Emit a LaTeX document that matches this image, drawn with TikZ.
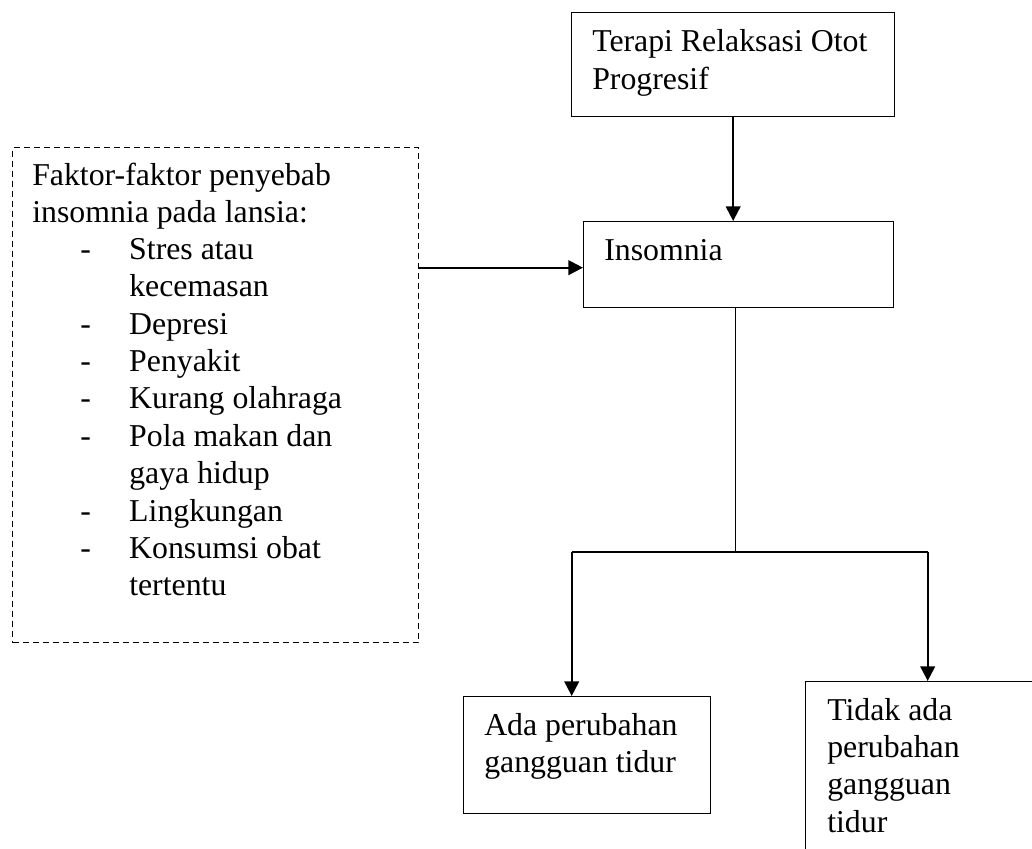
\documentclass[tikz,border=0pt]{standalone}
\usepackage{fontspec}
\setmainfont{Liberation Serif}
\usetikzlibrary{arrows.meta}
\tikzset{
  box/.style={draw, line width=1pt, rectangle, inner sep=0pt, anchor=north west},
  dbox/.style={draw, line width=0.8pt, dash pattern=on 4.5pt off 3pt, rectangle, inner sep=0pt, anchor=north west},
  txt/.style={anchor=base west, inner sep=0pt, font=\fontsize{23.85pt}{28pt}\selectfont},
  arr/.style={line width=1.5pt, -{Triangle[width=11pt,length=11pt]}},
  plain/.style={line width=1pt}
}
\begin{document}
\begin{tikzpicture}[x=0.75pt,y=-0.75pt]
\useasboundingbox (0,0) rectangle (1032,849);
\clip (0,0) rectangle (1032,849);
% boxes
\node[box, minimum width=242.25pt, minimum height=78pt] (top) at (571,12) {};
\node[box, minimum width=232.5pt, minimum height=64.5pt] (ins) at (583,221) {};
\node[dbox, minimum width=304.5pt, minimum height=371.25pt] (fac) at (12,147) {};
\node[box, minimum width=185.25pt, minimum height=87.75pt] (ada) at (463,696) {};
\node[box, minimum width=195pt, minimum height=150pt] (tdk) at (805,681) {};
% texts
\node[txt] (toptxt) at (592,52) {\begin{tabular}[t]{@{}l@{}}Terapi Relaksasi Otot\\Progresif\end{tabular}};
\node[txt] (instxt) at (604,260) {Insomnia};
\node[txt] (factxt) at (32,185) {\begin{tabular}[t]{@{\hspace{36pt}}p{36.75pt}@{}l@{}}
\multicolumn{2}{@{}l@{}}{Faktor-faktor penyebab}\\
\multicolumn{2}{@{}l@{}}{insomnia pada lansia:}\\
- & Stres atau\\
  & kecemasan\\
- & Depresi\\
- & Penyakit\\
- & Kurang olahraga\\
- & Pola makan dan\\
  & gaya hidup\\
- & Lingkungan\\
- & Konsumsi obat\\
  & tertentu
\end{tabular}};
\node[txt] (adatxt) at (484,735) {\begin{tabular}[t]{@{}l@{}}Ada perubahan\\gangguan tidur\end{tabular}};
\node[txt] (tdktxt) at (827,720) {\begin{tabular}[t]{@{}l@{}}Tidak ada\\perubahan\\gangguan\\tidur\end{tabular}};
% connectors
\coordinate (j) at (735.7,552);
\coordinate (jl) at (571.7,552);
\coordinate (jr) at (927.7,552);
\draw[arr] (top.south) -- (top.south |- ins.north);
\draw[arr] ([yshift=-2.25pt]fac.east |- ins.west) -- ([yshift=-2.25pt]ins.west);
\draw[plain] (j |- ins.south) -- (j);
\draw[plain] (jl) -- (jr);
\draw[arr] (jl) -- (jl |- ada.north);
\draw[arr] (jr) -- (jr |- tdk.north);
\end{tikzpicture}
\end{document}
